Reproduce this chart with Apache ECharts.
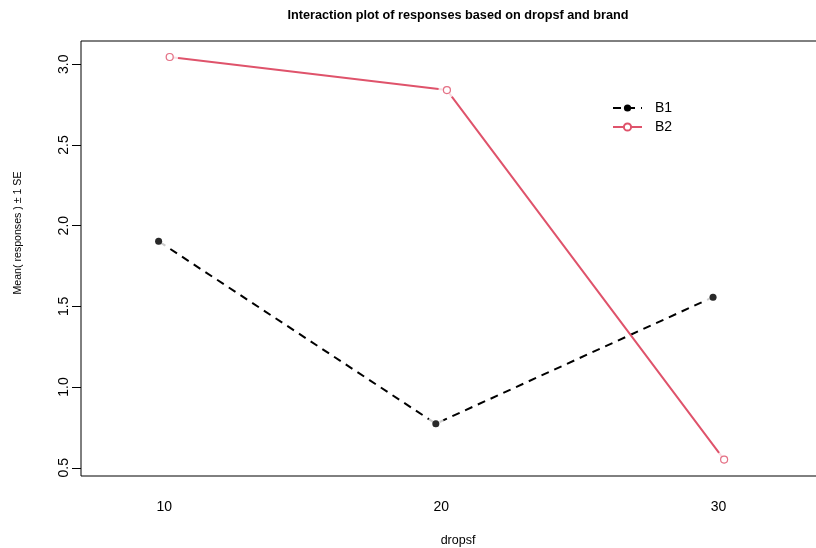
<!DOCTYPE html>
<html><head><meta charset="utf-8">
<script src="https://cdn.jsdelivr.net/npm/echarts@6/dist/echarts.min.js"></script>
<style>html,body{margin:0;padding:0;background:#fff}#c{width:816px;height:548px}</style>
</head><body><div id="c"></div><script>
const categories = ['10', '20', '30'];
const seriesNames = ['B1', 'B2'];
const b1Means = [1.903, 0.773, 1.557];
const b2Means = [3.045, 2.840, 0.551];
const yTicks = [0.5, 1.0, 1.5, 2.0, 2.5, 3.0];
const xTicks = [1, 2, 3];
const dodge = 0.02;

const FONT = "'Liberation Sans', Arial, Helvetica, sans-serif";
const RED = '#DF536B';

const b1Pts = b1Means.map((v, i) => [i + 1 - dodge, v]);
const b2Pts = b2Means.map((v, i) => [i + 1 + dodge, v]);

const chart = echarts.init(document.getElementById('c'), null, {renderer: 'canvas'});
chart.setOption({
  backgroundColor: '#fff',
  animation: false,
  title: {
    text: 'Interaction plot of responses based on dropsf and brand',
    left: 458, top: 9, textAlign: 'center', padding: 0,
    textStyle: {fontFamily: FONT, fontSize: 12.7, fontWeight: 'bold', color: '#000'}
  },
  legend: {
    data: seriesNames,
    orient: 'vertical',
    left: 612, top: 101, padding: 0,
    itemWidth: 29, itemHeight: 9, itemGap: 5,
    textStyle: {fontFamily: FONT, fontSize: 14, color: '#000', padding: [0, 0, 0, 8]}
  },
  grid: {
    left: 81, top: 41, width: 754, height: 435,
    outerBoundsMode: 'none',
    show: true, borderColor: '#000', borderWidth: 1, backgroundColor: 'transparent'
  },
  xAxis: {
    type: 'value', min: 0.7, max: 3.42,
    axisLine: {show: false}, axisTick: {show: false}, splitLine: {show: false},
    axisLabel: {
      customValues: xTicks, margin: 24,
      formatter: v => categories[Math.round(v) - 1],
      fontFamily: FONT, fontSize: 14, color: '#000'
    },
    name: 'dropsf', nameLocation: 'middle', nameGap: 58,
    nameTextStyle: {fontFamily: FONT, fontSize: 12.5, color: '#000'}
  },
  yAxis: {
    type: 'value', min: 0.449, max: 3.144,
    axisLine: {show: false}, splitLine: {show: false},
    axisTick: {show: true, customValues: yTicks, length: 9, inside: false, lineStyle: {color: '#000'}},
    axisLabel: {
      customValues: yTicks, rotate: 90, margin: 10,
      formatter: v => v.toFixed(1),
      fontFamily: FONT, fontSize: 14, color: '#000'
    }
  },
  graphic: [{
    type: 'text', x: 18, y: 233, rotation: Math.PI / 2,
    style: {text: 'Mean( responses ) \u00b1 1 SE', font: '10.6px ' + FONT, fill: '#000',
            textAlign: 'center', textVerticalAlign: 'middle'}
  }],
  series: [
    {
      name: 'B1', type: 'line', data: b1Pts, z: 2,
      symbol: 'circle', symbolSize: 7,
      itemStyle: {color: '#000', borderColor: '#fff', borderWidth: 0},
      lineStyle: {color: '#000', width: 2, type: [8, 6]}
    },
    {
      name: 'B2', type: 'line', data: b2Pts, z: 2,
      symbol: 'circle', symbolSize: 7,
      itemStyle: {color: '#fff', borderColor: RED, borderWidth: 1.2},
      lineStyle: {color: RED, width: 2}
    },
    {
      name: 'halo', type: 'scatter', data: b1Pts.concat(b2Pts), z: 3, silent: true,
      symbol: 'circle', symbolSize: 17, itemStyle: {color: '#fff'}
    },
    {
      name: 'B1 pts', type: 'scatter', data: b1Pts, z: 4, silent: true,
      symbol: 'circle', symbolSize: 7, itemStyle: {color: '#000'}
    },
    {
      name: 'B2 pts', type: 'scatter', data: b2Pts, z: 4, silent: true,
      symbol: 'circle', symbolSize: 7,
      itemStyle: {color: '#fff', borderColor: RED, borderWidth: 1.2}
    }
  ]
});
</script></body></html>
